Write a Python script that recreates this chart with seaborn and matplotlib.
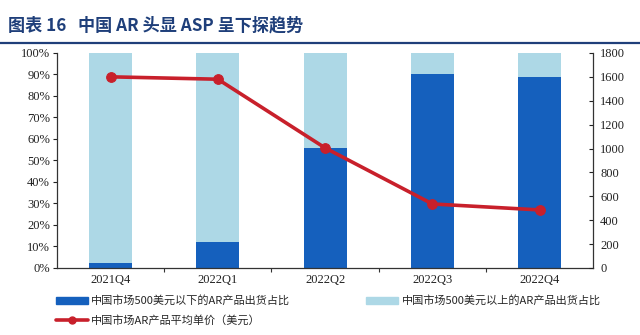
import matplotlib
matplotlib.use("Agg")
import matplotlib.pyplot as plt
import seaborn as sns
import pandas as pd
from matplotlib.patches import Patch
from matplotlib.lines import Line2D
from matplotlib.ticker import PercentFormatter, FixedLocator

quarters = ["2021Q4", "2022Q1", "2022Q2", "2022Q3", "2022Q4"]
share_below_500 = [2.5, 12.0, 56.0, 90.0, 89.0]      # %
share_above_500 = [97.5, 88.0, 44.0, 10.0, 11.0]     # %
avg_price = [1600, 1580, 1005, 536, 486]             # USD

label_below = "中国市场500美元以下的AR产品出货占比"
label_above = "中国市场500美元以上的AR产品出货占比"
label_price = "中国市场AR产品平均单价（美元）"
title = "图表 16   中国 AR 头显 ASP 呈下探趋势"

sns.set_theme(style="white")
plt.rcParams["font.family"] = ["Liberation Serif", "Noto Sans CJK SC", "DejaVu Sans"]

dark = "#1560BD"
light = "#ADD8E6"
red = "#C8202B"

df = pd.DataFrame({"q": quarters, "below": share_below_500, "above": share_above_500,
                   "price": avg_price})
df["total"] = df["below"] + df["above"]

fig = plt.figure(figsize=(6.4, 3.35), dpi=100)
ax = fig.add_axes([0.089, 0.2, 0.838, 0.642])

sns.barplot(data=df, x="q", y="total", color=light, width=0.4, ax=ax, saturation=1, linewidth=0)
sns.barplot(data=df, x="q", y="below", color=dark, width=0.4, ax=ax, saturation=1, linewidth=0)
ax.set_ylim(0, 100)
ax.set_yticks(range(0, 101, 10))
ax.yaxis.set_major_formatter(PercentFormatter(decimals=0))
ax.set_xlabel("")
ax.set_ylabel("")
ax.set_xlim(-0.5, 4.5)
ax.xaxis.set_minor_locator(FixedLocator([0.5, 1.5, 2.5, 3.5]))

ax2 = ax.twinx()
sns.lineplot(data=df, x="q", y="price", color=red, linewidth=2.6, marker="o",
             markersize=7, markeredgecolor=red, ax=ax2)
ax2.set_ylim(0, 1800)
ax2.set_yticks(range(0, 1801, 200))
ax2.set_ylabel("")
ax2.set_xlim(-0.5, 4.5)

for a in (ax, ax2):
    a.spines["top"].set_visible(False)
    for s in ("left", "right", "bottom"):
        a.spines[s].set_color("#333333")
        a.spines[s].set_linewidth(0.9)
ax.spines["right"].set_visible(False)
ax2.spines["left"].set_visible(False)
ax2.spines["bottom"].set_visible(False)

ax.tick_params(axis="y", direction="out", length=3, width=0.8, labelsize=9, colors="#222222", pad=2, left=True)
ax.tick_params(axis="x", which="major", length=0, labelsize=9, colors="#222222", pad=4)
ax.tick_params(axis="x", which="minor", direction="out", length=3, width=0.8, color="#333333", bottom=True)
ax2.tick_params(axis="y", direction="in", length=3, width=0.8, labelsize=9, colors="#222222", pad=5, right=True)

# title
fig.text(0.012, 0.925, title, fontsize=12.3, fontweight="bold", color="#1F3F7A",
         family=["Noto Sans CJK SC", "DejaVu Sans"], va="center", ha="left")
fig.add_artist(Line2D([0.0, 1.0], [0.873, 0.873], color="#1F3F7A", linewidth=1.6,
                      transform=fig.transFigure))

handles = [Patch(facecolor=dark, edgecolor=dark),
           Line2D([0], [0], color=red, linewidth=2.6, marker="o", markersize=5),
           Patch(facecolor=light, edgecolor=light)]
labels = [label_below, label_price, label_above]
fig.legend(handles, labels, loc="upper left", bbox_to_anchor=(0.087, 0.118), ncol=2,
           frameon=False, prop={"family": ["Noto Sans CJK SC", "DejaVu Sans"], "size": 8},
           handlelength=2.9, handleheight=0.5, handletextpad=0.3, columnspacing=6.8,
           labelspacing=0.75, borderaxespad=0, borderpad=0)

fig.savefig("out.png", dpi=100, facecolor="white")
